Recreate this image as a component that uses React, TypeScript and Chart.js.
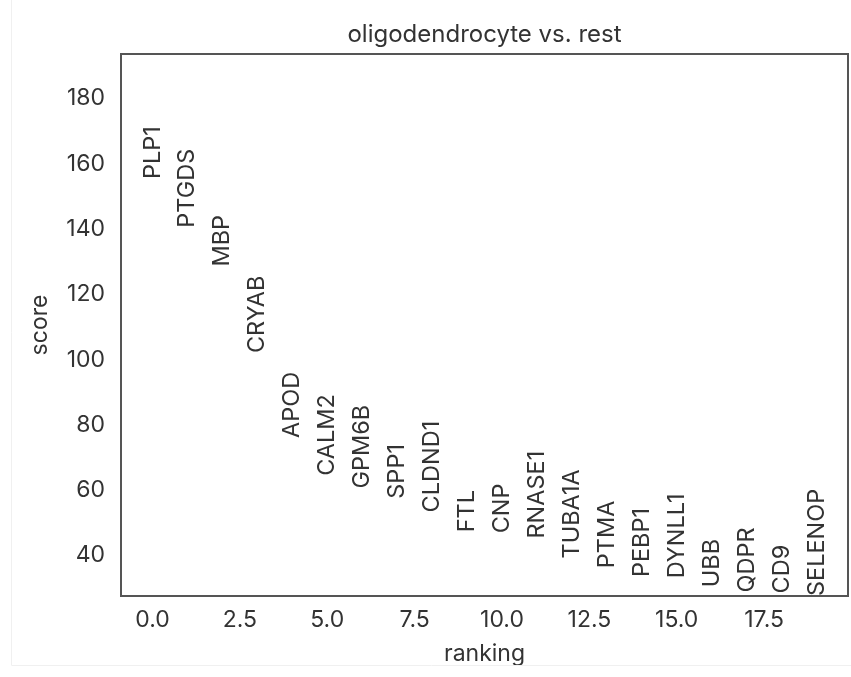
import React, { useEffect, useRef } from "react";
import { Chart, registerables } from "chart.js";

Chart.register(...registerables);

const genes = [
  "PLP1", "PTGDS", "MBP", "CRYAB", "APOD", "CALM2", "GPM6B", "SPP1", "CLDND1", "FTL",
  "CNP", "RNASE1", "TUBA1A", "PTMA", "PEBP1", "DYNLL1", "UBB", "QDPR", "CD9", "SELENOP",
];
const scores = [
  155.3, 140.4, 128.5, 102.0, 76.0, 64.4, 60.5, 57.4, 53.2, 47.1,
  46.8, 45.2, 39.1, 36.1, 33.4, 33.0, 30.3, 28.7, 28.4, 27.6,
];
const xTicks = [0, 2.5, 5, 7.5, 10, 12.5, 15, 17.5];
const yTicks = [40, 60, 80, 100, 120, 140, 160, 180];
const title = "oligodendrocyte vs. rest";
const xTitle = "ranking";
const yTitle = "score";

const FONT = "Inter, 'DejaVu Sans', sans-serif";
const TEXT = "#333333";

export default function App() {
  const ref = useRef<HTMLCanvasElement>(null);
  useEffect(() => {
    const canvas = ref.current!;
    const ymin = Math.min(...scores);
    const ymaxOri = Math.max(...scores);
    const ymax = ymaxOri + 0.3 * (ymaxOri - ymin);
    const labelPlugin = {
      id: "geneLabels",
      afterDraw(chart: any) {
        const { ctx, chartArea, scales } = chart;
        const xs = scales.x;
        const ys = scales.y;
        ctx.save();
        // faint outer figure edge
        ctx.strokeStyle = "#f0f0f0";
        ctx.lineWidth = 1;
        ctx.beginPath();
        ctx.moveTo(11.5, 0);
        ctx.lineTo(11.5, 665.5);
        ctx.lineTo(851, 665.5);
        ctx.stroke();
        // frame
        ctx.strokeStyle = "#555555";
        ctx.lineWidth = 2;
        ctx.strokeRect(chartArea.left, chartArea.top, chartArea.right - chartArea.left, chartArea.bottom - chartArea.top);
        // gene labels
        ctx.fillStyle = TEXT;
        ctx.font = `23.5px ${FONT}`;
        ctx.textAlign = "left";
        ctx.textBaseline = "middle";
        genes.forEach((g, i) => {
          const px = xs.getPixelForValue(i);
          const py = ys.getPixelForValue(scores[i]);
          ctx.save();
          ctx.translate(px, py);
          ctx.rotate(-Math.PI / 2);
          ctx.fillText(g, 0, 0);
          ctx.restore();
        });
        // title
        ctx.font = `24px ${FONT}`;
        ctx.textAlign = "center";
        ctx.textBaseline = "alphabetic";
        ctx.fillText(title, (chartArea.left + chartArea.right) / 2, 42);
        ctx.restore();
      },
    };
    const chart = new Chart(canvas, {
      type: "scatter",
      data: {
        datasets: [
          {
            data: scores.map((s, i) => ({ x: i, y: s })),
            pointRadius: 0,
            showLine: false,
          },
        ],
      },
      options: {
        animation: false,
        responsive: false,
        layout: { padding: { top: 54, right: 3, left: 0, bottom: 0 } },
        plugins: { legend: { display: false }, tooltip: { enabled: false } },
        scales: {
          x: {
            type: "linear",
            min: -0.9,
            max: 19.9,
            grid: { display: false, drawTicks: false },
            border: { display: false },
            afterFit: (a: any) => { a.height = 81; },
            afterBuildTicks: (a: any) => { a.ticks = xTicks.map((v) => ({ value: v })); },
            ticks: {
              color: TEXT,
              font: { family: FONT, size: 23 },
              padding: 10,
              callback: (v: any) => Number(v).toFixed(1),
            },
            title: {
              display: true,
              text: xTitle,
              color: TEXT,
              font: { family: FONT, size: 23 },
              padding: { top: 0, bottom: 9 },
            },
          },
          y: {
            type: "linear",
            min: ymin,
            max: ymax,
            grid: { display: false, drawTicks: false },
            border: { display: false },
            afterFit: (a: any) => { a.width = 121; },
            afterBuildTicks: (a: any) => { a.ticks = yTicks.map((v) => ({ value: v })); },
            ticks: {
              color: TEXT,
              font: { family: FONT, size: 23 },
              padding: 16,
            },
            title: {
              display: true,
              text: yTitle,
              color: TEXT,
              font: { family: FONT, size: 23 },
              padding: { top: 26, bottom: 0 },
            },
          },
        },
      },
      plugins: [labelPlugin],
    });
    return () => chart.destroy();
  }, []);
  return (
    <div style={{ position: "absolute", left: 0, top: 0, width: 851, height: 677, background: "#fff" }}>
      <canvas ref={ref} width={851} height={677} style={{ width: 851, height: 677 }} />
    </div>
  );
}
